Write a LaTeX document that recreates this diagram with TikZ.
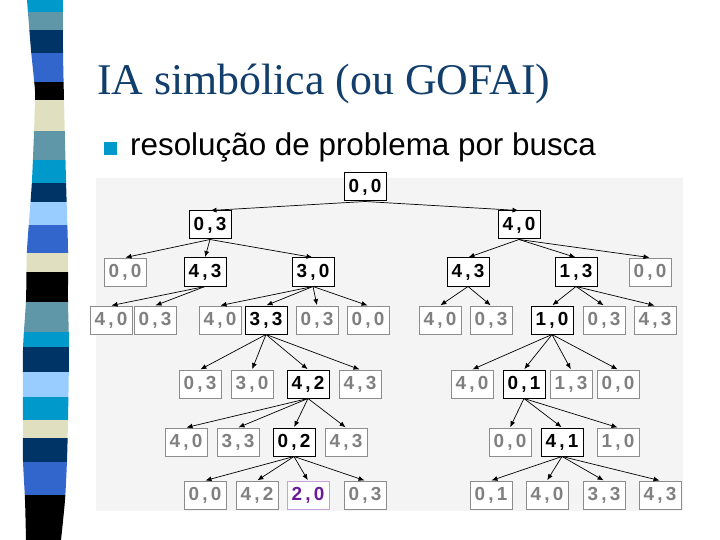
\documentclass[tikz,border=0pt]{standalone}
\usepackage{fontspec}
\setmainfont{Liberation Serif}
\newfontfamily\arialf{Liberation Sans}
\usetikzlibrary{arrows.meta}
\definecolor{cyanS}{HTML}{0099CC}
\definecolor{steelS}{HTML}{5F97A8}
\definecolor{navyS}{HTML}{003366}
\definecolor{royalS}{HTML}{3366CC}
\definecolor{beigeS}{HTML}{E0E0C0}
\definecolor{lightS}{HTML}{99CCFF}
\definecolor{titleblue}{HTML}{123E6B}
\definecolor{greytext}{HTML}{808080}
\definecolor{greyline}{HTML}{8C8C8C}
\definecolor{goalpurple}{HTML}{6A1B9A}
\definecolor{goalline}{HTML}{C8A0D8}
\definecolor{bgtex}{HTML}{F4F4F4}
\tikzset{
  basebox/.style={minimum width=42bp, minimum height=28bp, inner sep=0pt, fill=white,
    font=\arialf\fontsize{19}{19}\selectfont\bfseries},
  pathbox/.style={basebox, draw=black, line width=1bp, text=black},
  greybox/.style={basebox, draw=greyline, line width=0.8bp, text=greytext},
  goalbox/.style={basebox, draw=goalline, line width=0.8bp, text=goalpurple},
  edge/.style={draw=black, line width=0.7bp, -{Latex[length=6bp,width=5bp]}, shorten >=0.5bp}
}
\newcommand{\pr}[2]{#1\,,\,#2}
\begin{document}
\begin{tikzpicture}[x=1bp,y=-1bp]
\useasboundingbox (0,0) rectangle (720,540);
% striped bar
\begin{scope}
\clip plot[smooth] coordinates {(27,0) (31,50) (34,80) (35,100) (32,180) (27,250) (26,300) (23,350) (23,420) (23,460) (25,500) (26,540)}
 -- plot[smooth] coordinates {(61,540) (65,500) (67,460) (68,420) (69,350) (68,300) (68,250) (66,180) (64,100) (63,50) (63,0)} -- cycle;
\fill[cyanS] (0,0) rectangle (100,12);
\fill[steelS] (0,12) rectangle (100,30);
\fill[navyS] (0,30) rectangle (100,53);
\fill[royalS] (0,53) rectangle (100,82);
\fill[black] (0,82) rectangle (100,100);
\fill[beigeS] (0,100) rectangle (100,131);
\fill[steelS] (0,131) rectangle (100,160);
\fill[cyanS] (0,160) rectangle (100,183);
\fill[navyS] (0,183) rectangle (100,202);
\fill[lightS] (0,202) rectangle (100,225);
\fill[royalS] (0,225) rectangle (100,253);
\fill[beigeS] (0,253) rectangle (100,272);
\fill[black] (0,272) rectangle (100,302);
\fill[steelS] (0,302) rectangle (100,332);
\fill[cyanS] (0,332) rectangle (100,347);
\fill[navyS] (0,347) rectangle (100,372);
\fill[lightS] (0,372) rectangle (100,397);
\fill[cyanS] (0,397) rectangle (100,420);
\fill[beigeS] (0,420) rectangle (100,438);
\fill[navyS] (0,438) rectangle (100,462);
\fill[royalS] (0,462) rectangle (100,495);
\fill[black] (0,495) rectangle (100,540);
\end{scope}
% title and bullet
\node[anchor=base west, inner sep=0pt, text=titleblue, font=\fontsize{44}{44}\selectfont] (title) at (97,95) {IA simbólica (ou GOFAI)};
\fill[cyanS] (104,142) rectangle (117,155);
\node[anchor=base west, inner sep=0pt, font=\arialf\fontsize{31.5}{31.5}\selectfont] (bullet) at (130,156) {resolução de problema por busca};
% background of tree picture
\fill[bgtex] (96,178) rectangle (683,511);
% nodes
\node[pathbox] (r) at (365,187) {\pr00};
\node[pathbox] (a1) at (210,225) {\pr03};
\node[pathbox] (a2) at (519,225) {\pr40};
\node[greybox] (b1) at (125,272) {\pr00};
\node[pathbox] (b2) at (205,272) {\pr43};
\node[pathbox] (b3) at (313,272) {\pr30};
\node[pathbox] (b4) at (468,272) {\pr43};
\node[pathbox] (b5) at (576,272) {\pr13};
\node[greybox] (b6) at (650,272) {\pr00};
\node[greybox] (c1) at (111,320) {\pr40};
\node[greybox] (c2) at (155,320) {\pr03};
\node[greybox] (c3) at (220,320) {\pr40};
\node[pathbox] (c4) at (266,320) {\pr33};
\node[greybox] (c5) at (317,320) {\pr03};
\node[greybox] (c6) at (368,320) {\pr00};
\node[greybox] (c7) at (440,320) {\pr40};
\node[greybox] (c8) at (491,320) {\pr03};
\node[pathbox] (c9) at (552,320) {\pr10};
\node[greybox] (c10) at (604,320) {\pr03};
\node[greybox] (c11) at (655,320) {\pr43};
\node[greybox] (d1) at (200,384) {\pr03};
\node[greybox] (d2) at (252,384) {\pr30};
\node[pathbox] (d3) at (308,384) {\pr42};
\node[greybox] (d4) at (360,384) {\pr43};
\node[greybox] (d5) at (472,384) {\pr40};
\node[pathbox] (d6) at (524,384) {\pr01};
\node[greybox] (d7) at (571,384) {\pr13};
\node[greybox] (d8) at (618,384) {\pr00};
\node[greybox] (e1) at (186,442) {\pr40};
\node[greybox] (e2) at (238,442) {\pr33};
\node[pathbox] (e3) at (294,442) {\pr02};
\node[greybox] (e4) at (346,442) {\pr43};
\node[greybox] (e5) at (510,442) {\pr00};
\node[pathbox] (e6) at (562,442) {\pr41};
\node[greybox] (e7) at (618,442) {\pr10};
\node[greybox] (f1) at (205,495) {\pr00};
\node[greybox] (f2) at (257,495) {\pr42};
\node[goalbox] (f3) at (308,495) {\pr20};
\node[greybox] (f4) at (365,495) {\pr03};
\node[greybox] (f5) at (491,495) {\pr01};
\node[greybox] (f6) at (547,495) {\pr40};
\node[greybox] (f7) at (604,495) {\pr33};
\node[greybox] (f8) at (660,495) {\pr43};
% edges
\foreach \p/\c in {r/a1, r/a2,
  a1/b1, a1/b2, a1/b3, a2/b4, a2/b5, a2/b6,
  b2/c1, b2/c2, b3/c3, b3/c4, b3/c5, b3/c6, b4/c7, b4/c8, b5/c9, b5/c10, b5/c11,
  c4/d1, c4/d2, c4/d3, c4/d4, c9/d5, c9/d6, c9/d7, c9/d8,
  d3/e1, d3/e2, d3/e3, d3/e4, d6/e5, d6/e6, d6/e7,
  e3/f1, e3/f2, e3/f3, e3/f4, e6/f5, e6/f6, e6/f7, e6/f8}
  \draw[edge] (\p.south) -- (\c.north);
\end{tikzpicture}
\end{document}
